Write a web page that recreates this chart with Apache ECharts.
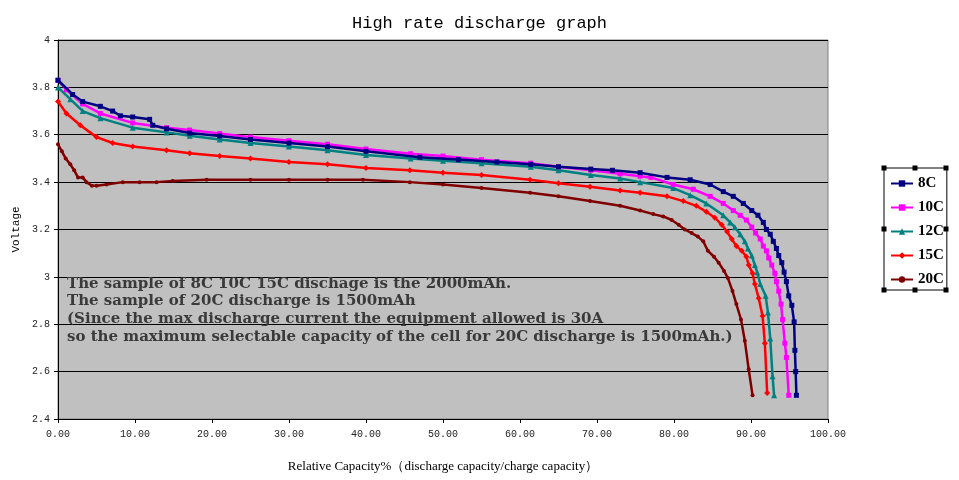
<!DOCTYPE html>
<html>
<head>
<meta charset="utf-8">
<script src="https://cdn.jsdelivr.net/npm/echarts@6/dist/echarts.min.js"></script>
<style>html,body{margin:0;padding:0;background:#fff;}#c{width:959px;height:480px;}</style>
</head>
<body>
<div id="c"></div>
<script>
// ---- data (x = relative capacity %, y = voltage) ----
const seriesNames = ['8C', '10C', '12C', '15C', '20C'];
const xTicks = [0, 10, 20, 30, 40, 50, 60, 70, 80, 90, 100];
const yTicks = [2.4, 2.6, 2.8, 3, 3.2, 3.4, 3.6, 3.8, 4];

const data8C = [
  [0,3.83],[1.9,3.77],[3.2,3.74],[5.5,3.72],[7.1,3.70],[8.1,3.68],[9.7,3.675],[11.9,3.665],
  [12.3,3.64],[14.1,3.625],[17.1,3.607],[21,3.595],[25,3.58],[30,3.565],[35,3.55],[40,3.53],
  [47,3.505],[52,3.495],[57,3.485],[61.4,3.475],[65,3.465],[69.2,3.455],[72,3.45],
  [75.6,3.44],[79.1,3.42],[82.1,3.41],[84.7,3.39],[86.4,3.36],[87.7,3.34],[89.0,3.31],
  [90.1,3.28],[90.9,3.26],[91.6,3.23],[92.0,3.20],[92.5,3.18],[92.9,3.15],[93.3,3.12],
  [93.6,3.09],[94.0,3.06],[94.3,3.02],[94.6,2.98],[94.9,2.92],[95.3,2.88],[95.6,2.81],
  [95.7,2.69],[95.8,2.6],[95.9,2.5]
];
const data10C = [
  [0,3.83],[1.1,3.79],[3.2,3.73],[5.5,3.69],[9.7,3.65],[14.1,3.63],[17.1,3.62],[21,3.605],
  [25,3.59],[30,3.575],[35,3.56],[40,3.54],[45.8,3.52],[50,3.51],[55,3.495],[61.4,3.48],
  [65,3.465],[69.2,3.45],[73,3.435],[75.6,3.425],[77,3.42],
  [79.9,3.39],[82.5,3.37],[84.7,3.34],[86.4,3.31],[87.7,3.28],[88.6,3.26],[89.4,3.24],
  [90.1,3.21],[90.6,3.185],[91.2,3.16],[91.6,3.13],[92.0,3.11],[92.3,3.08],[92.7,3.05],
  [93.1,3.015],[93.3,2.98],[93.6,2.94],[93.9,2.885],[94.1,2.82],[94.4,2.72],[94.6,2.66],
  [94.9,2.5]
];
const data12C = [
  [0,3.80],[1.6,3.75],[3.2,3.70],[5.5,3.67],[9.7,3.63],[14.1,3.61],[17.1,3.596],[21,3.58],
  [25,3.565],[30,3.55],[35,3.535],[40,3.515],[45.8,3.50],[50,3.49],[55,3.48],[61.4,3.465],
  [65,3.45],[69.2,3.43],[73,3.415],[75.6,3.40],
  [79.9,3.375],[82.1,3.345],[84.2,3.31],[86.4,3.26],[87.3,3.23],[87.9,3.21],[88.6,3.18],
  [89.2,3.15],[89.6,3.12],[90.1,3.09],[90.5,3.05],[90.8,3.02],[91.2,2.97],[91.9,2.92],
  [92.2,2.85],[92.5,2.74],[92.8,2.58],[93.0,2.5]
];
const data15C = [
  [0,3.74],[1.1,3.69],[2.9,3.64],[5.0,3.59],[7.1,3.565],[9.7,3.55],[14.1,3.535],[17.1,3.522],
  [21,3.51],[25,3.50],[30,3.485],[35,3.475],[40,3.46],[45.7,3.45],[50,3.44],[55,3.43],
  [61.3,3.41],[65,3.395],[69.1,3.38],[73,3.365],[75.6,3.355],
  [79.1,3.34],[81.2,3.32],[82.9,3.30],[84.2,3.275],[85.3,3.25],[86.2,3.22],[86.9,3.19],
  [87.5,3.16],[88.1,3.13],[88.8,3.11],[89.4,3.085],[89.7,3.05],[90.2,3.015],[90.5,2.97],
  [91.0,2.91],[91.5,2.835],[91.8,2.72],[92.1,2.51]
];
const data20C = [
  [0,3.56],[0.5,3.53],[1.0,3.50],[1.6,3.475],[2.1,3.45],[2.6,3.42],[3.2,3.42],[3.7,3.40],
  [4.4,3.385],[5.0,3.385],[6.3,3.39],[8.4,3.40],[10.6,3.40],[12.8,3.40],[14.9,3.405],
  [19.3,3.41],[25,3.41],[30,3.41],[35,3.41],[39.6,3.41],[45.7,3.40],[50,3.39],[55,3.375],
  [61.3,3.355],[65,3.34],[69.1,3.32],[73,3.30],[75.6,3.28],
  [77.3,3.265],[78.6,3.255],[79.7,3.24],[80.6,3.22],[81.4,3.20],[82.3,3.185],[83.1,3.17],
  [83.8,3.15],[84.4,3.11],[85.2,3.085],[85.8,3.06],[86.5,3.025],[87.0,2.995],[87.6,2.94],
  [88.1,2.885],[88.7,2.82],[89.2,2.73],[89.7,2.61],[90.2,2.50]
];

const noteLines = [
  'The sample of 8C 10C 15C dischage is the 2000mAh.',
  'The sample of 20C discharge is 1500mAh',
  '(Since the max discharge current the equipment allowed is 30A',
  'so the maximum selectable capacity of the cell for 20C discharge is 1500mAh.)'
];

// ---- styles ----
const colors = ['#000080', '#ff00ff', '#008080', '#ff0000', '#800000'];
const symbols = ['rect', 'rect', 'triangle', 'diamond', 'circle'];
const symSizes = [5, 5, 6, 6, 4];
const allData = [data8C, data10C, data12C, data15C, data20C];

const chart = echarts.init(document.getElementById('c'), null, {renderer: 'canvas'});

const handles = [];
[[884,168],[915,168],[946,168],[884,229],[946,229],[884,290],[915,290],[946,290]].forEach(p => {
  handles.push({type: 'rect', shape: {x: p[0]-2.5, y: p[1]-2.5, width: 5, height: 5}, style: {fill: '#000'}, z: 100});
});

const option = {
  animation: false,
  backgroundColor: '#ffffff',
  title: {
    text: 'High rate discharge graph',
    left: 'center',
    top: 10,
    textStyle: {fontFamily: '"Liberation Mono", monospace', fontSize: 17, fontWeight: 'normal', color: '#000'}
  },
  legend: {
    orient: 'vertical',
    left: 884,
    top: 168,
    data: seriesNames,
    itemWidth: 22,
    itemHeight: 8,
    itemGap: 9,
    padding: [8, 3, 3, 6],
    borderColor: '#000',
    borderWidth: 1,
    backgroundColor: '#fff',
    textStyle: {fontFamily: '"Liberation Serif", serif', fontWeight: 'bold', fontSize: 15, color: '#000'}
  },
  grid: {
    left: 58, right: 131, top: 40, bottom: 61,
    show: true, backgroundColor: '#c0c0c0', borderColor: '#808080', borderWidth: 1
  },
  xAxis: {
    type: 'value', min: 0, max: 100, interval: 10,
    name: 'Relative Capacity%（discharge capacity/charge capacity）',
    nameLocation: 'middle', nameGap: 41,
    nameTextStyle: {fontFamily: '"Liberation Serif", serif', fontSize: 13, color: '#000'},
    axisLine: {lineStyle: {color: '#000', width: 1}},
    axisTick: {show: true, length: 4, lineStyle: {color: '#000'}},
    splitLine: {show: false},
    axisLabel: {formatter: v => v.toFixed(2), fontFamily: '"Liberation Mono", monospace', fontSize: 10, color: '#222', margin: 10}
  },
  yAxis: {
    type: 'value', min: 2.4, max: 4, interval: 0.2,
    name: 'Voltage',
    nameLocation: 'middle', nameGap: 32, nameRotate: 90,
    nameTextStyle: {fontFamily: '"Liberation Mono", monospace', fontSize: 11, color: '#000'},
    axisLine: {show: true, lineStyle: {color: '#000', width: 1}},
    axisTick: {show: true, length: 4, lineStyle: {color: '#000'}},
    splitLine: {show: true, lineStyle: {color: '#000', width: 1}},
    axisLabel: {formatter: v => String(Math.round(v*10)/10), fontFamily: '"Liberation Mono", monospace', fontSize: 10, color: '#222', margin: 8}
  },
  graphic: [{
    type: 'text', left: 67, top: 275, z: 50,
    style: {
      text: noteLines.join('\n'),
      font: 'bold 15px "DejaVu Serif", serif',
      lineHeight: 17.7,
      fill: '#3a3a3a'
    }
  }].concat(handles),
  series: seriesNames.map((n, i) => ({
    name: n,
    type: 'line',
    data: allData[i],
    symbol: symbols[i],
    symbolSize: symSizes[i],
    showSymbol: true,
    showAllSymbol: true,
    lineStyle: {color: colors[i], width: 2.5},
    itemStyle: {color: colors[i]},
    z: 10 - i
  }))
};
chart.setOption(option);
</script>
</body>
</html>
